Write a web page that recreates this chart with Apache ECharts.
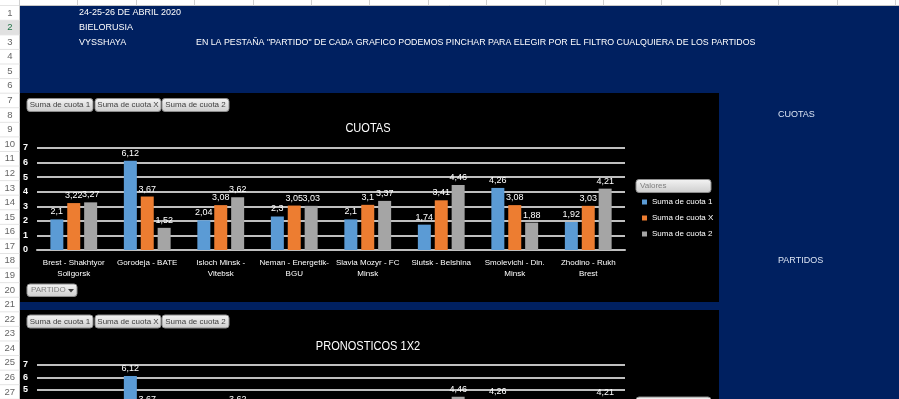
<!DOCTYPE html>
<html><head><meta charset="utf-8">
<script src="https://cdn.jsdelivr.net/npm/echarts@6/dist/echarts.min.js"></script>
<style>html,body{margin:0;padding:0;background:#002060;}#c{width:899px;height:399px;}</style>
</head><body><div id="c"></div>
<script>
// ---- data ----
const categories = ['Brest - Shakhtyor\nSoligorsk', 'Gorodeja - BATE', 'Isloch Minsk -\nVitebsk', 'Neman - Energetik-\nBGU', 'Slavia Mozyr - FC\nMinsk', 'Slutsk - Belshina', 'Smolevichi - Din.\nMinsk', 'Zhodino - Rukh\nBrest'];
const cuota1 = [2.1, 6.12, 2.04, 2.3, 2.1, 1.74, 4.26, 1.92];
const cuotaX = [3.22, 3.67, 3.08, 3.05, 3.1, 3.41, 3.08, 3.03];
const cuota2 = [3.27, 1.52, 3.62, 3.03, 3.37, 4.46, 1.88, 4.21];
const seriesNames = ['Suma de cuota 1', 'Suma de cuota X', 'Suma de cuota 2'];
const yMin = 0, yMax = 7, yStep = 1;
const headerLines = ['24-25-26 DE ABRIL 2020', 'BIELORUSIA', 'VYSSHAYA'];
const note = 'EN LA PESTAÑA "PARTIDO" DE CADA GRAFICO PODEMOS PINCHAR PARA ELEGIR POR EL FILTRO CUALQUIERA DE LOS PARTIDOS';
const chartTitles = ['CUOTAS', 'PRONOSTICOS 1X2'];
const sideLabels = ['CUOTAS', 'PARTIDOS'];
const filterLabel = 'PARTIDO';
const legendHeader = 'Valores';
const rowCount = 27;

// ---- layout / styles ----
const FONT = '"Liberation Sans", Arial, sans-serif';
const colors = ['#5B9BD5', '#ED7D31', '#A5A5A5'];
const rowH = 14.577, row0 = 5.7;
const rowC = n => row0 + (n - 0.5) * rowH;
const g = [];
function rect(x, y, w, h, fill) {
  g.push({ type: 'rect', shape: { x, y, width: w, height: h }, style: { fill: fill }, silent: true });
}
function line(x1, y1, x2, y2, stroke, lw) {
  g.push({ type: 'line', shape: { x1, y1, x2, y2 }, style: { stroke, lineWidth: lw || 1 }, silent: true });
}
function text(x, y, str, o) {
  o = o || {};
  g.push({
    type: 'text', x, y, scaleX: o.scaleX || 1, silent: true,
    style: {
      text: str, fill: o.color || '#fff', fontSize: o.size || 9, fontFamily: FONT, fontWeight: o.weight || 'normal',
      align: o.align || 'left', textAlign: o.align || 'left', verticalAlign: 'middle', textVerticalAlign: 'middle'
    }
  });
}
const btnFill = { type: 'linear', x: 0, y: 0, x2: 0, y2: 1, colorStops: [{ offset: 0, color: '#f4f4f4' }, { offset: 1, color: '#cdcdcd' }] };
function button(x, y, w, h, label, align) {
  g.push({ type: 'rect', shape: { x, y, width: w, height: h, r: 3 }, style: { fill: btnFill, stroke: '#8c8c8c', lineWidth: 1 }, silent: true });
  if (align === 'left') text(x + 4, y + h / 2, label, { color: '#7f7f7f', size: 8 });
  else text(x + w / 2, y + h / 2, label, { color: '#404040', size: 8, align: 'center' });
}

// column header strip
rect(0, 0, 899, 5.5, '#ffffff');
line(0, 5.5, 899, 5.5, '#c8c8c8', 1);
[19, 77, 136, 194, 253, 311, 369, 428, 486, 545, 603, 661, 720, 778, 837, 895].forEach(x => line(x + 0.5, 0, x + 0.5, 5.5, '#d0d0d0', 1));
// row header column
rect(0, 5.5, 19.5, 394, '#ffffff');
rect(0, row0 + rowH, 19.5, rowH, '#e1e1e1');
line(19.5, 5.5, 19.5, 399, '#c6c6c6', 1);
for (let n = 1; n <= rowCount; n++) {
  line(0, row0 + n * rowH, 19.5, row0 + n * rowH, '#e3e3e3', 1);
  text(9.8, rowC(n), String(n), { color: n === 2 ? '#217346' : '#666666', size: 9.5, align: 'center' });
}
// top texts
headerLines.forEach((t, i) => text(79, rowC(i + 1), t, { size: 9 }));
text(196, rowC(3), note, { size: 9, scaleX: 0.98 });
// right side texts
text(778, 115, sideLabels[0], { size: 9, color: '#dbe4f3' });
text(778, 261, sideLabels[1], { size: 9, color: '#dbe4f3' });

// black chart areas
rect(20, 93, 699, 209, '#000000');
rect(20, 310, 699, 95, '#000000');
// chart 1 decorations
[[27, 66], [95, 66], [162, 67]].forEach((b, i) => button(b[0], 98.5, b[1], 13, seriesNames[i]));
text(368, 128, chartTitles[0], { size: 13, scaleX: 0.85, align: 'center' });
button(27, 284, 50, 12.5, filterLabel, 'left');
g.push({ type: 'polygon', shape: { points: [[68, 289], [74, 289], [71, 292.5]] }, style: { fill: '#404040' }, silent: true });
button(636, 179.5, 75, 13, legendHeader, 'left');
// chart 2 decorations
[[27, 66], [95, 66], [162, 67]].forEach((b, i) => button(b[0], 315, b[1], 13, seriesNames[i]));
text(368, 346, chartTitles[1], { size: 13, scaleX: 0.85, align: 'center' });
button(636, 397, 75, 13, legendHeader, 'left');

const labelFmt = p => String(p.value).replace('.', ',');
const dataSets = [cuota1, cuotaX, cuota2];
const series = [];
[0, 1].forEach(gi => {
  dataSets.forEach((d, si) => {
    series.push({
      type: 'bar', name: seriesNames[si], data: d, xAxisIndex: gi, yAxisIndex: gi,
      barWidth: 13, barGap: '30%', itemStyle: { color: colors[si] },
      label: { show: true, position: 'top', distance: 3, color: '#ffffff', fontSize: 9, fontFamily: FONT, formatter: labelFmt },
      silent: true, animation: false
    });
  });
});

const axisX = gi => ({
  type: 'category', gridIndex: gi, data: categories,
  axisLine: { lineStyle: { color: '#bfbfbf', width: 2 } }, axisTick: { show: false },
  axisLabel: { color: '#ffffff', fontSize: 8, fontFamily: FONT, margin: 7, lineHeight: 11, interval: 0 }
});
const axisY = gi => ({
  type: 'value', gridIndex: gi, min: yMin, max: yMax, interval: yStep,
  axisLine: { show: false }, axisTick: { show: false },
  splitLine: { lineStyle: { color: '#bfbfbf', width: 2 } },
  axisLabel: { color: '#ffffff', fontSize: 9, fontWeight: 'bold', fontFamily: FONT, margin: 9 }
});

const chart = echarts.init(document.getElementById('c'), null, { renderer: 'canvas' });
chart.setOption({
  backgroundColor: '#002060',
  animation: false,
  textStyle: { fontFamily: FONT },
  graphic: { elements: g },
  grid: [
    { left: 37, top: 148, width: 588, height: 102, containLabel: false, outerBoundsMode: 'none' },
    { left: 37, top: 365, width: 588, height: 87.5, containLabel: false, outerBoundsMode: 'none' }
  ],
  xAxis: [axisX(0), axisX(1)],
  yAxis: [axisY(0), axisY(1)],
  legend: {
    data: seriesNames, orient: 'vertical', left: 637, top: 192, icon: 'rect', itemWidth: 5, itemHeight: 5,
    itemGap: 6, selectedMode: false, textStyle: { color: '#ffffff', fontSize: 8, fontFamily: FONT, lineHeight: 10 }
  },
  series: series
});
</script>
</body></html>
